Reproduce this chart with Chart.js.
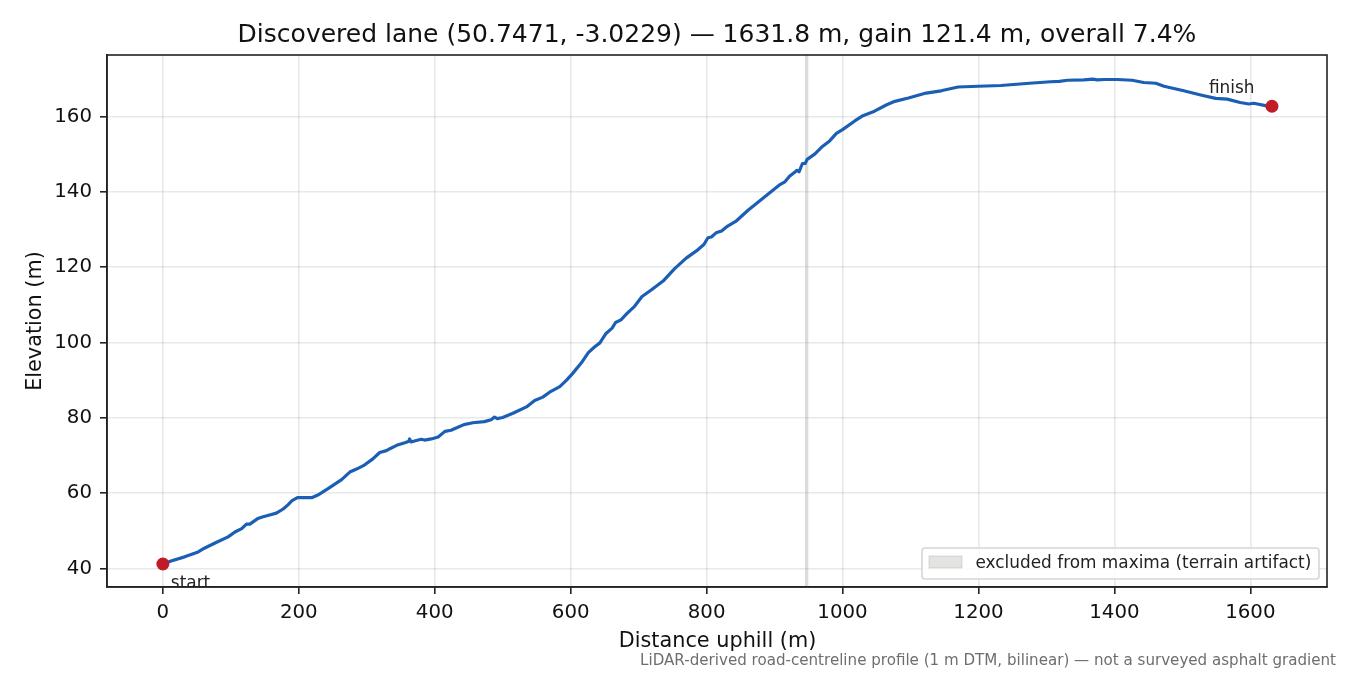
<!DOCTYPE html>
<html><head><meta charset="utf-8">
<style>html,body{margin:0;padding:0;background:#fff}#w{width:1350px;height:675px;position:relative}</style>
<script src="https://cdn.jsdelivr.net/npm/chart.js@4"></script></head>
<body><div id="w"><canvas id="c" width="1350" height="675"></canvas></div>
<script>
const titleText = "Discovered lane (50.7471, -3.0229) — 1631.8 m, gain 121.4 m, overall 7.4%";
const xLabel = "Distance uphill (m)";
const yLabel = "Elevation (m)";
const footnote = "LiDAR-derived road-centreline profile (1 m DTM, bilinear) — not a surveyed asphalt gradient";
const legendLabel = "excluded from maxima (terrain artifact)";
const xTicks = [0,200,400,600,800,1000,1200,1400,1600];
const yTicks = [40,60,80,100,120,140,160];
const distance = [0,12,32,52,61,76,96,106,116,123,128,140,145,157,167,177,184,190,198,219,228,243,263,275,285,295,309,319,329,334,344,356,362,363,365,373,380,385,395,405,415,424,434,443,456,473,483,488,492,500,515,535,547,559,569,584,594,603,617,626,635,643,652,661,666,674,683,694,705,719,736,753,770,785,796,802,807,814,822,831,844,861,908,915,922,931,933,936,941,945,948,959,969,981,991,1000,1018,1030,1047,1065,1077,1097,1123,1145,1170,1200,1233,1275,1306,1319,1331,1355,1368,1375,1385,1404,1426,1443,1461,1473,1502,1527,1549,1566,1585,1598,1605,1624,1631.8];
const elevation = [41.2,42,43.1,44.4,45.4,46.7,48.4,49.7,50.6,51.8,51.8,53.3,53.6,54.2,54.7,55.8,56.9,58,58.8,58.8,59.5,61.2,63.6,65.6,66.4,67.3,69.1,70.8,71.3,71.8,72.7,73.4,73.8,74.4,73.6,74,74.3,74.1,74.4,74.9,76.4,76.7,77.5,78.2,78.7,79,79.5,80.2,79.8,80.1,81.2,82.9,84.6,85.5,86.8,88.3,90,91.8,94.9,97.3,98.8,99.9,102.4,103.8,105.3,106,107.7,109.6,112.2,114,116.3,119.6,122.4,124.3,126,127.8,128,129.1,129.6,130.9,132.3,135.1,141.9,142.6,144.1,145.4,145.7,145.3,147.5,147.5,148.6,150,151.8,153.5,155.5,156.5,158.8,160.2,161.4,163.1,164,164.9,166.2,166.8,167.8,168,168.2,168.8,169.2,169.3,169.6,169.7,169.9,169.7,169.8,169.8,169.6,169,168.8,168,166.8,165.7,164.8,164.6,163.7,163.3,163.5,162.8,162.6];
const markerX = [0,1631.8];
const markerY = [41.2,162.7];
const markerLabels = ["start","finish"];
const bandX = [944.5,950];
const xRange = [-82.2,1712.8];
const yRange = [35.1,176.3];

const P = {l:107,t:55,r:1327,b:587};
const FONT = '"DejaVu Sans"';
const ink = '#111';
Chart.defaults.font.family = FONT;
const overlay = {
  id:'overlay',
  afterDatasetsDraw(ch){
    const c=ch.ctx, x=ch.scales.x, y=ch.scales.y;
    c.save();
    c.strokeStyle='#222'; c.lineWidth=1.6; c.strokeRect(P.l,P.t,P.r-P.l,P.b-P.t);
    c.fillStyle='#222'; c.font='16.9px '+FONT; c.textBaseline='alphabetic';
    c.save(); c.beginPath(); c.rect(P.l,P.t,P.r-P.l,P.b-P.t); c.clip();
    c.textAlign='left';
    c.fillText(markerLabels[0], x.getPixelForValue(markerX[0])+8, y.getPixelForValue(markerY[0])+24);
    c.fillText(markerLabels[1], x.getPixelForValue(markerX[1])-63, y.getPixelForValue(markerY[1])-13);
    c.restore();
    // legend box
    const bx=922,by=548,bw=397,bh=31;
    c.beginPath(); c.roundRect(bx,by,bw,bh,3);
    c.fillStyle='rgba(255,255,255,0.8)'; c.fill();
    c.strokeStyle='#d6d6d6'; c.lineWidth=1.6; c.stroke();
    c.fillStyle='rgba(130,130,125,0.22)'; c.strokeStyle='rgba(130,130,125,0.25)'; c.lineWidth=1;
    c.fillRect(929,556,33,12); c.strokeRect(929,556,33,12);
    c.fillStyle='#222'; c.font='16.9px '+FONT; c.textAlign='left'; c.textBaseline='middle';
    c.fillText(legendLabel,975.5,564);
    // footnote
    c.fillStyle='#6e6e6e'; c.font='15.1px '+FONT; c.textAlign='right'; c.textBaseline='alphabetic';
    c.fillText(footnote,1336,665);
    // axis titles
    c.fillStyle=ink; c.font='20.8px '+FONT; c.textAlign='center';
    c.fillText(xLabel,717.5,647);
    c.save(); c.translate(41,321); c.rotate(-Math.PI/2); c.fillText(yLabel,0,0); c.restore();
    // title
    c.font='25px '+FONT; c.fillText(titleText,717,42);
    c.restore();
  }
};
new Chart(document.getElementById('c'),{
  type:'line',
  plugins:[overlay],
  data:{datasets:[
    {label:'band',data:bandX.map(v=>({x:v,y:yRange[1]})),fill:'start',backgroundColor:'rgba(130,130,125,0.28)',borderWidth:0,pointRadius:0,order:3},
    {label:'profile',data:distance.map((v,i)=>({x:v,y:elevation[i]})),borderColor:'#1a5fb4',borderWidth:3.2,pointRadius:0,tension:0,order:2,fill:false,borderJoinStyle:'round'},
    {label:'ends',data:markerX.map((v,i)=>({x:v,y:markerY[i]})),showLine:false,pointRadius:6.5,pointBackgroundColor:'#c01c28',pointBorderWidth:0,order:1}
  ]},
  options:{
    responsive:false,animation:false,devicePixelRatio:1,
    layout:{padding:{top:P.t,right:1350-P.r,left:0,bottom:0}},
    plugins:{legend:{display:false},title:{display:false},tooltip:{enabled:false}},
    scales:{
      x:{type:'linear',min:xRange[0],max:xRange[1],
        afterFit(s){s.height=675-P.b},
        afterBuildTicks(s){s.ticks=xTicks.map(v=>({value:v}))},
        grid:{color:'rgba(0,0,0,0.09)',lineWidth:1.6,tickColor:'#222',tickWidth:1.6,tickLength:7},
        border:{color:'#222',width:1.6},
        ticks:{color:ink,font:{size:19.8},maxRotation:0,autoSkip:false,padding:7,callback:v=>String(v)}},
      y:{type:'linear',min:yRange[0],max:yRange[1],
        afterFit(s){s.width=P.l},
        afterBuildTicks(s){s.ticks=yTicks.map(v=>({value:v}))},
        grid:{color:'rgba(0,0,0,0.09)',lineWidth:1.6,tickColor:'#222',tickWidth:1.6,tickLength:7},
        border:{color:'#222',width:1.6},
        ticks:{color:ink,font:{size:19.8},autoSkip:false,padding:8,callback:v=>String(v)}}
    }
  }
});
</script></body></html>
